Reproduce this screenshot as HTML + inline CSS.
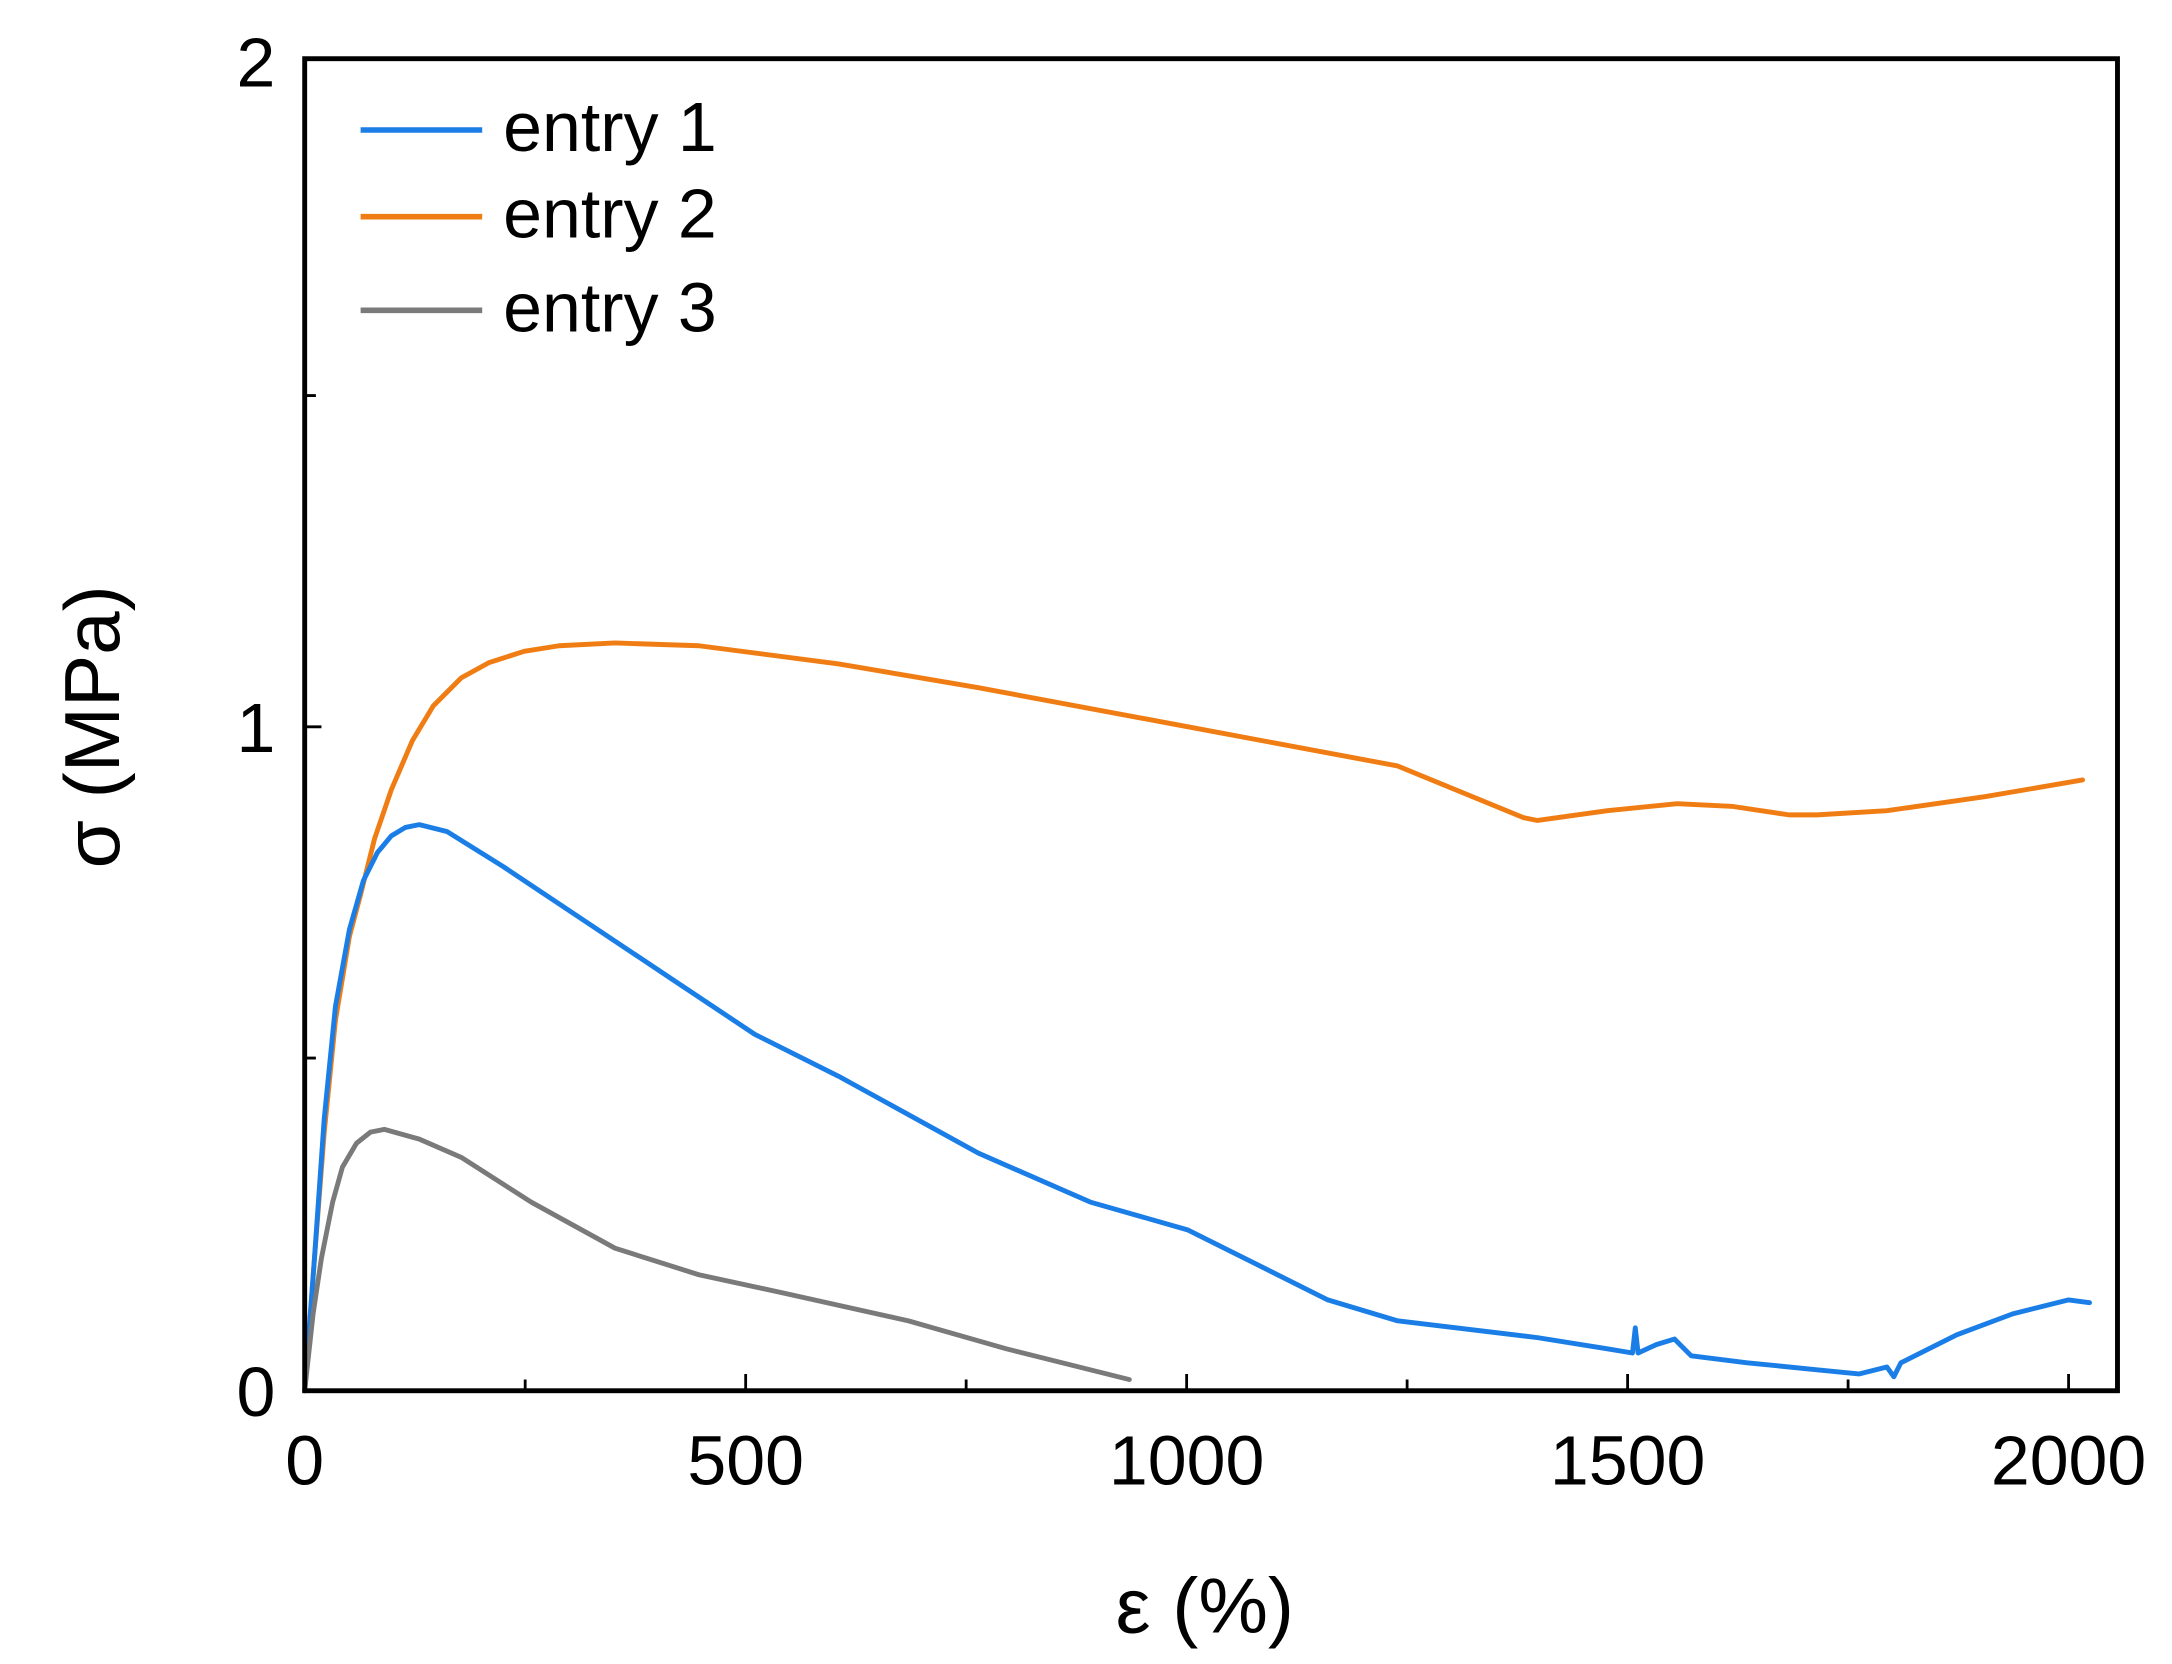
<!DOCTYPE html>
<html><head><style>html,body{margin:0;padding:0;background:#fff}svg{display:block}</style></head>
<body>
<svg width="2172" height="1664" viewBox="0 0 1554 1190.5" preserveAspectRatio="none" xmlns="http://www.w3.org/2000/svg" font-family="Liberation Sans, Arial, sans-serif">
<rect width="1554" height="1190.5" fill="#fff"/>
<g fill="none" stroke-linejoin="round" stroke-linecap="round" stroke-width="3.5">
<polyline stroke="#f07d14" points="218,995 225,900 232,810 240,730 250,670 258,640 268,600 280,565 295,530 310,505 330,485 350,474 375,466 400,462 440,460 500,462 600,475 700,492 850,520 1000,548 1090,585 1100,587 1150,580 1200,575 1240,577 1280,583 1300,583 1350,580 1420,570 1490,558"/>
<polyline stroke="#1a7ee6" points="218,995 225,900 232,800 240,720 250,665 260,630 270,610 280,598 290,592 300,590 320,595 360,620 420,660 480,700 540,740 600,770 700,825 780,860 850,880 900,905 950,930 1000,945 1100,957 1150,965 1168,968 1170,950 1172,968 1185,962 1198,958 1210,970 1250,975 1300,980 1330,983 1350,978 1355,985 1360,975 1400,955 1440,940 1480,930 1495,932"/>
<polyline stroke="#7a7a7a" points="218,995 224,940 230,900 238,860 245,835 255,818 265,810 275,808 300,815 330,828 380,860 440,893 500,912 560,925 650,945 720,965 808,987"/>
</g>
<g stroke="#000" stroke-width="3.5" fill="none">
<rect x="218" y="42" width="1297" height="953"/>
<path d="M218,995v-12M375.75,995v-8M533.5,995v-12M691.25,995v-8M849,995v-12M1006.75,995v-8M1164.5,995v-12M1322.25,995v-8M1480,995v-12" stroke-width="2"/>
<path d="M218,995h12M218,757h8M218,520h12M218,283h8M218,42h12" stroke-width="2"/>
</g>
<g font-size="50" fill="#000">
<text x="197" y="1013" text-anchor="end">0</text>
<text x="197" y="538" text-anchor="end">1</text>
<text x="197" y="62" text-anchor="end">2</text>
<g text-anchor="middle">
<text x="218" y="1062">0</text>
<text x="533.5" y="1062">500</text>
<text x="849" y="1062">1000</text>
<text x="1164.5" y="1062">1500</text>
<text x="1480" y="1062">2000</text>
</g>
<text x="360" y="108">entry 1</text>
<text x="360" y="170">entry 2</text>
<text x="360" y="237">entry 3</text>
<text x="862" y="1168" text-anchor="middle" font-size="56">ε (%)</text>
<text transform="translate(85,520) rotate(-90)" text-anchor="middle" font-size="56">σ (MPa)</text>
</g>
<g stroke-width="4">
<line x1="258" y1="93" x2="345" y2="93" stroke="#1a7ee6"/>
<line x1="258" y1="155" x2="345" y2="155" stroke="#f07d14"/>
<line x1="258" y1="222" x2="345" y2="222" stroke="#7a7a7a"/>
</g>
</svg>
</body></html>
